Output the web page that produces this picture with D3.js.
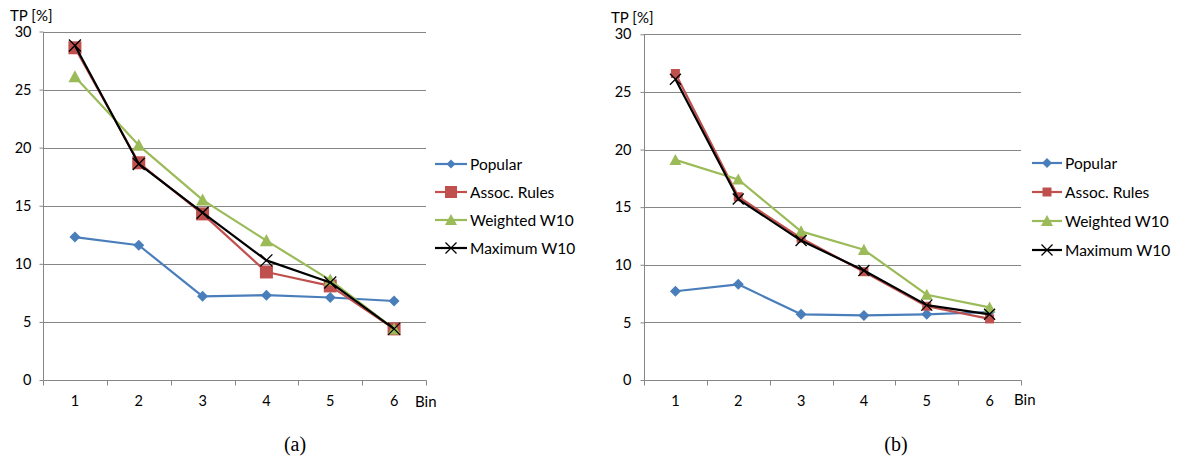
<!DOCTYPE html>
<html>
<head>
<meta charset="utf-8">
<script src="https://cdn.jsdelivr.net/npm/d3@7"></script>
<style>
  html, body { margin: 0; padding: 0; background: #fff; }
  svg { display: block; }
  text { font-family: Lato, "Open Sans", sans-serif; fill: #000; }
</style>
</head>
<body>
<svg id="chart" width="1178" height="458"></svg>
<script>
// ---------------- data ----------------
const bins = ["1", "2", "3", "4", "5", "6"];
const yTicks = [0, 5, 10, 15, 20, 25, 30];
const seriesNames = ["Popular", "Assoc. Rules", "Weighted W10", "Maximum W10"];
const seriesColors = ["#4A7EBB", "#C0504D", "#9BBB59", "#000000"];

// chart (a)
const aPopular  = [12.3, 11.6, 7.2, 7.3, 7.1, 6.8];
const aAssoc    = [28.6, 18.7, 14.3, 9.3, 8.1, 4.4];
const aWeighted = [26.1, 20.2, 15.5, 12.0, 8.6, 4.4];
const aMaximum  = [28.8, 18.6, 14.4, 10.3, 8.4, 4.4];

// chart (b)
const bPopular  = [7.7, 8.3, 5.7, 5.6, 5.7, 5.9];
const bAssoc    = [26.6, 15.9, 12.3, 9.4, 6.4, 5.3];
const bWeighted = [19.1, 17.4, 12.9, 11.3, 7.4, 6.3];
const bMaximum  = [26.1, 15.7, 12.1, 9.5, 6.5, 5.7];

const yLabel = "TP [%]";
const xLabel = "Bin";
const captions = ["(a)", "(b)"];

// ---------------- marker shapes (size = full width) ----------------
const diamondType = { draw(ctx, s) { const r = s / 2; ctx.moveTo(0, -r); ctx.lineTo(r, 0); ctx.lineTo(0, r); ctx.lineTo(-r, 0); ctx.closePath(); } };
const squareType  = { draw(ctx, s) { const r = s / 2; ctx.rect(-r, -r, s, s); } };
const triangleType = { draw(ctx, s) { const r = s / 2; ctx.moveTo(0, -r * 1.0); ctx.lineTo(r, r * 0.85); ctx.lineTo(-r, r * 0.85); ctx.closePath(); } };
const crossType   = { draw(ctx, s) { const r = s / 2; ctx.moveTo(-r, -r); ctx.lineTo(r, r); ctx.moveTo(r, -r); ctx.lineTo(-r, r); } };
const markerTypes = [diamondType, squareType, triangleType, crossType];

const svg = d3.select("#chart");
const tickFont = "14.5px";
const titleFont = "15px";
const legendFont = "15.5px";

function drawChart(cfg) {
  const g = svg.append("g");
  const x = d3.scaleBand().domain(bins).range([cfg.x0, cfg.x1]);
  const y = d3.scaleLinear().domain([0, 30]).range([cfg.yb, cfg.yt]);
  const gridColor = "#868686";

  // gridlines
  g.append("g").selectAll("line").data(yTicks.filter(t => t > 0)).join("line")
    .attr("x1", cfg.x0).attr("x2", cfg.x1)
    .attr("y1", d => Math.round(y(d)) + 0.5).attr("y2", d => Math.round(y(d)) + 0.5)
    .attr("stroke", gridColor).attr("stroke-width", 1);

  // y axis
  const ya = g.append("g").attr("transform", `translate(${Math.round(cfg.x0) + 0.5},0)`)
    .call(d3.axisLeft(y).tickValues(yTicks).tickSize(4).tickPadding(cfg.yPad).tickFormat(d3.format("d")));
  ya.select(".domain").attr("stroke", gridColor).attr("d", `M0,${Math.round(cfg.yb)+0.5}V${Math.round(cfg.yt)+0.5}`);
  ya.selectAll(".tick line").attr("stroke", gridColor);
  ya.selectAll(".tick text").style("font-family", "Lato, sans-serif").style("font-size", tickFont).attr("fill", "#000");

  // x axis
  const xa = g.append("g").attr("transform", `translate(0,${Math.round(cfg.yb) + 0.5})`)
    .call(d3.axisBottom(x).tickSize(0).tickPadding(15));
  xa.select(".domain").attr("stroke", gridColor).attr("d", `M${Math.round(cfg.x0)+0.5},0H${Math.round(cfg.x1)+0.5}`);
  xa.selectAll(".tick text").style("font-family", "Lato, sans-serif").style("font-size", tickFont).attr("fill", "#000");
  // tick marks at band boundaries
  const bounds = bins.map(b => x(b)).concat([x(bins[bins.length - 1]) + x.bandwidth()]);
  xa.append("g").selectAll("line").data(bounds).join("line")
    .attr("x1", d => Math.round(d) + 0.5).attr("x2", d => Math.round(d) + 0.5)
    .attr("y1", 0).attr("y2", 5).attr("stroke", gridColor);

  // axis titles
  g.append("text").attr("x", cfg.tpX).attr("y", cfg.tpY).style("font-size", titleFont).text(yLabel);
  g.append("text").attr("x", cfg.binX).attr("y", cfg.binY).style("font-size", titleFont).text(xLabel);

  // series
  const line = d3.line().x((d, i) => x(bins[i]) + x.bandwidth() / 2).y(d => y(d));
  cfg.series.forEach((vals, si) => {
    g.append("path").datum(vals).attr("d", line)
      .attr("fill", "none").attr("stroke", seriesColors[si]).attr("stroke-width", 2.2)
      .attr("stroke-linejoin", "round");
    const sym = d3.symbol().type(markerTypes[si]).size(cfg.msizes[si]);
    g.append("g").selectAll("path").data(vals).join("path")
      .attr("transform", (d, i) => `translate(${x(bins[i]) + x.bandwidth() / 2},${y(d)})`)
      .attr("d", sym)
      .attr("fill", si === 3 ? "none" : seriesColors[si])
      .attr("stroke", si === 3 ? "#000" : "none")
      .attr("stroke-width", 1.3);
  });

  // legend
  const lg = g.append("g");
  seriesNames.forEach((name, si) => {
    const ly = cfg.legY + si * cfg.legDy;
    lg.append("line").attr("x1", cfg.legX).attr("x2", cfg.legX + cfg.legW)
      .attr("y1", ly).attr("y2", ly).attr("stroke", seriesColors[si]).attr("stroke-width", 2.2);
    lg.append("path").attr("transform", `translate(${cfg.legX + cfg.legW / 2},${ly})`)
      .attr("d", d3.symbol().type(markerTypes[si]).size(cfg.lsizes[si]))
      .attr("fill", si === 3 ? "none" : seriesColors[si])
      .attr("stroke", si === 3 ? "#000" : "none").attr("stroke-width", 1.3);
    lg.append("text").attr("x", cfg.legX + cfg.legW + 3).attr("y", ly + 5.5)
      .style("font-size", legendFont).text(name);
  });

  // caption
  svg.append("text").attr("x", cfg.capX).attr("y", cfg.capY).attr("text-anchor", "middle")
    .style("font-family", "'Liberation Serif', 'Times New Roman', serif").style("font-size", "20px")
    .text(cfg.caption);
}

drawChart({
  x0: 43, x1: 426, yt: 31.5, yb: 380, yPad: 8,
  series: [aPopular, aAssoc, aWeighted, aMaximum],
  msizes: [11, 13, 13, 12], lsizes: [9, 12, 12, 11],
  tpX: 10, tpY: 20.5, binX: 415, binY: 406.5,
  legX: 435, legW: 32, legY: 164, legDy: 28,
  capX: 295, capY: 451, caption: captions[0]
});

drawChart({
  x0: 644, x1: 1021, yt: 34.3, yb: 380, yPad: 9,
  series: [bPopular, bAssoc, bWeighted, bMaximum],
  msizes: [11, 9, 12, 11], lsizes: [10, 9, 12, 11],
  tpX: 611, tpY: 22.5, binX: 1014, binY: 404.5,
  legX: 1032, legW: 30, legY: 163, legDy: 29,
  capX: 896, capY: 451, caption: captions[1]
});
</script>
</body>
</html>
